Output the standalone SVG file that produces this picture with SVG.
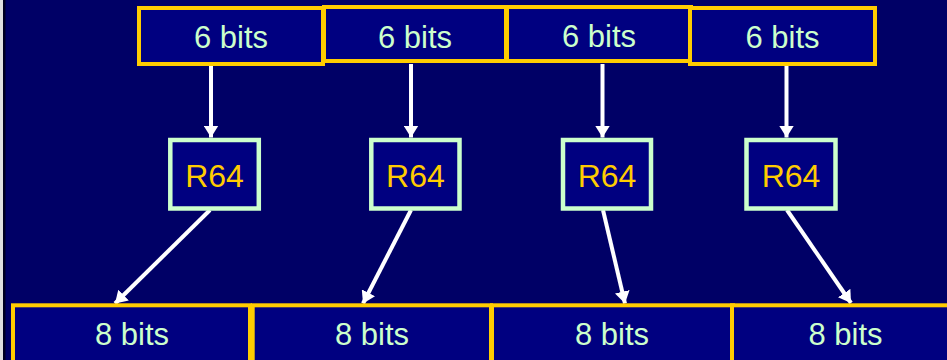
<svg xmlns="http://www.w3.org/2000/svg" width="947" height="360" viewBox="0 0 947 360">
  <defs>
    <style>
      .bg { fill: #000066; }
      .bits { fill: #000080; stroke: #ffcc00; stroke-width: 4; }
      .r64 { fill: #000080; stroke: #ccffcc; stroke-width: 4.5; }
      .lbl { font-family: "Liberation Sans", Arial, sans-serif; font-size: 31px; fill: #ccffcc; text-anchor: middle; }
      .rlbl { font-family: "Liberation Sans", Arial, sans-serif; font-size: 32px; fill: #ffcc00; text-anchor: middle; }
      .conn { stroke: #ffffff; stroke-width: 4; fill: none; marker-end: url(#head); }
    </style>
    <marker id="head" viewBox="0 0 12 15" refX="12" refY="7.5" markerWidth="12" markerHeight="15" markerUnits="userSpaceOnUse" orient="auto">
      <path d="M0,0 L12,7.5 L0,15 Z" fill="#ffffff"/>
    </marker>
  </defs>

  <!-- slide background -->
  <rect class="bg" x="0" y="0" width="947" height="360"/>
  <rect x="0" y="0" width="3" height="360" fill="#e0e0e0"/>
  <rect x="3" y="0" width="2.5" height="360" fill="#000022"/>

  <!-- connectors -->
  <g id="connectors">
    <line class="conn" x1="211" y1="66" x2="211" y2="137.5"/>
    <line class="conn" x1="411" y1="64" x2="411" y2="137.5"/>
    <line class="conn" x1="602.5" y1="64" x2="602.5" y2="137.5"/>
    <line class="conn" x1="786.5" y1="66" x2="786.5" y2="137.5"/>
    <line class="conn" x1="210" y1="210" x2="115" y2="303.5"/>
    <line class="conn" x1="411" y1="210" x2="363" y2="303.5"/>
    <line class="conn" x1="603" y1="210" x2="625" y2="303.5"/>
    <line class="conn" x1="787" y1="210" x2="851" y2="303"/>
  </g>

  <!-- 6-bit input groups -->
  <g id="in1"><rect class="bits" x="139" y="8" width="184" height="56"/><text class="lbl" x="231" y="48">6 bits</text></g>
  <g id="in2"><rect class="bits" x="324" y="7" width="182" height="54"/><text class="lbl" x="415" y="48">6 bits</text></g>
  <g id="in3"><rect class="bits" x="507" y="7" width="184" height="54"/><text class="lbl" x="599" y="47">6 bits</text></g>
  <g id="in4"><rect class="bits" x="690" y="8" width="185" height="56"/><text class="lbl" x="782.5" y="48">6 bits</text></g>

  <!-- radix-64 mapping -->
  <g id="r1"><rect class="r64" x="170.3" y="140" width="88.5" height="68.5"/><text class="rlbl" x="214.5" y="186.5">R64</text></g>
  <g id="r2"><rect class="r64" x="371.3" y="140" width="88.2" height="68.5"/><text class="rlbl" x="415.4" y="186.5">R64</text></g>
  <g id="r3"><rect class="r64" x="563" y="140" width="88" height="68.5"/><text class="rlbl" x="607" y="186.5">R64</text></g>
  <g id="r4"><rect class="r64" x="746.5" y="140" width="89" height="68.5"/><text class="rlbl" x="791" y="186.5">R64</text></g>

  <!-- 8-bit output characters -->
  <g id="out1"><rect class="bits" x="13" y="305.3" width="237" height="60"/><text class="lbl" x="132" y="345">8 bits</text></g>
  <g id="out2"><rect class="bits" x="252.7" y="305.3" width="238.3" height="60"/><text class="lbl" x="372" y="345">8 bits</text></g>
  <g id="out3"><rect class="bits" x="492" y="305.3" width="241" height="60"/><text class="lbl" x="612" y="345">8 bits</text></g>
  <g id="out4"><rect class="bits" x="732" y="305.3" width="230" height="60"/><text class="lbl" x="845.5" y="345">8 bits</text></g>
</svg>
